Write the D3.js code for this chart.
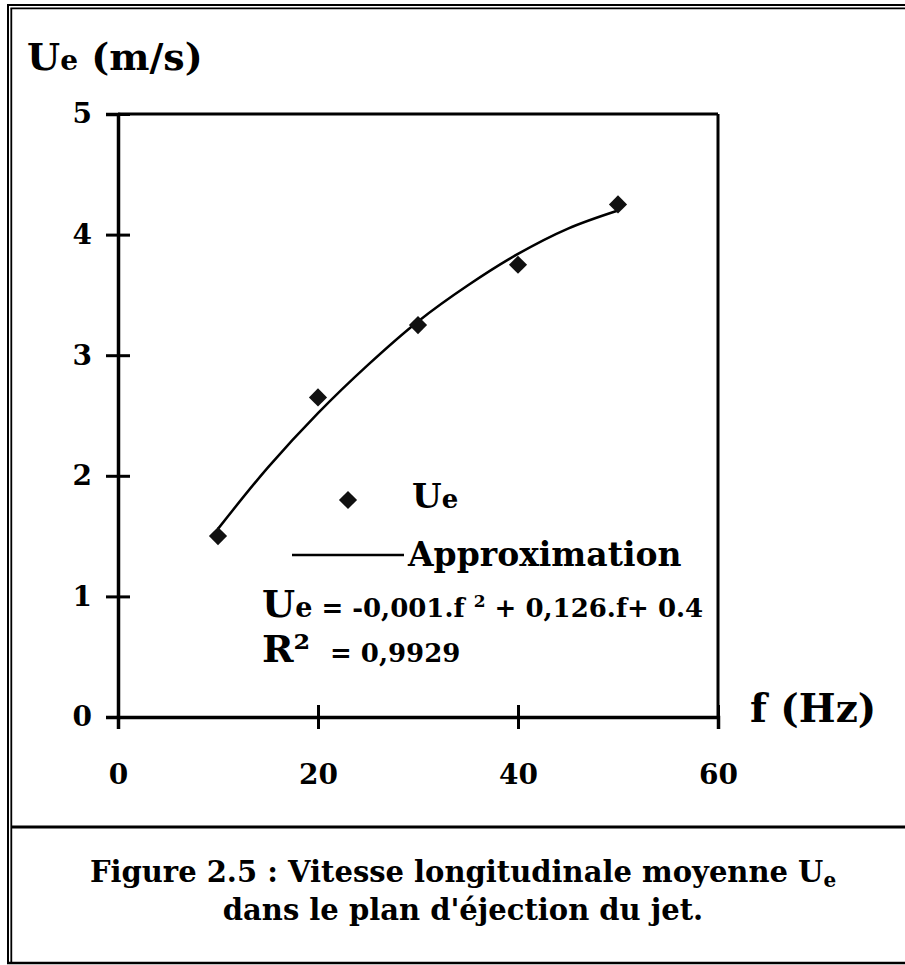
<!DOCTYPE html>
<html>
<head>
<meta charset="utf-8">
<script src="https://d3js.org/d3.v7.min.js"></script>
<style>
body { margin: 0; background: #fff; }
text { font-family: "DejaVu Serif", serif; font-weight: bold; fill: #000; }
</style>
</head>
<body>
<div id="chart"></div>
<script>

// measured points (f in Hz, Ue in m/s)
var freq = [10, 20, 30, 40, 50];
var speed = [1.5, 2.65, 3.25, 3.75, 4.25];

// approximation curve
var fitFreq = [10, 15, 20, 25, 30, 35, 40, 45, 50];
var fitSpeed = [1.56, 2.07, 2.52, 2.92, 3.28, 3.58, 3.84, 4.05, 4.2];

var xTicks = [0, 20, 40, 60];
var yTicks = [0, 1, 2, 3, 4, 5];

var width = 905, height = 965;

var svg = d3.select("#chart")
  .append("svg")
  .attr("width", width)
  .attr("height", height);

// frame: double line left and top, single line bottom, separator above caption
svg.append("line").attr("x1", 8).attr("y1", 5).attr("x2", 8).attr("y2", 963)
  .attr("stroke", "#000").attr("stroke-width", 2);
svg.append("line").attr("x1", 11.3).attr("y1", 8.4).attr("x2", 11.3).attr("y2", 963)
  .attr("stroke", "#000").attr("stroke-width", 1.8);
svg.append("line").attr("x1", 7).attr("y1", 5).attr("x2", width).attr("y2", 5)
  .attr("stroke", "#000").attr("stroke-width", 2);
svg.append("line").attr("x1", 10.4).attr("y1", 8.4).attr("x2", width).attr("y2", 8.4)
  .attr("stroke", "#000").attr("stroke-width", 1.8);
svg.append("line").attr("x1", 7).attr("y1", 963).attr("x2", width).attr("y2", 963)
  .attr("stroke", "#000").attr("stroke-width", 2.5);
svg.append("line").attr("x1", 11).attr("y1", 827).attr("x2", width).attr("y2", 827)
  .attr("stroke", "#000").attr("stroke-width", 3);

var xscale = d3.scaleLinear().domain([0, 60]).range([118, 718]);
var yscale = d3.scaleLinear().domain([0, 5]).range([717, 114]);

// plot box top and right
svg.append("line").attr("x1", xscale(0)).attr("y1", yscale(5)).attr("x2", xscale(60)).attr("y2", yscale(5))
  .attr("stroke", "#000").attr("stroke-width", 3);
svg.append("line").attr("x1", xscale(60)).attr("y1", yscale(5)).attr("x2", xscale(60)).attr("y2", yscale(0))
  .attr("stroke", "#000").attr("stroke-width", 3);

// y axis, cross ticks (outer part with labels, inner part without)
var yAxis = svg.append("g")
  .attr("transform", "translate(" + xscale(0) + ",0)")
  .call(d3.axisLeft(yscale).tickValues(yTicks).tickSize(12).tickPadding(14).tickFormat(d3.format("d")));
svg.append("g")
  .attr("transform", "translate(" + xscale(0) + ",0)")
  .call(d3.axisRight(yscale).tickValues(yTicks).tickSize(12).tickFormat(""))
  .select(".domain").remove();

var xAxis = svg.append("g")
  .attr("transform", "translate(0," + yscale(0) + ")")
  .call(d3.axisBottom(xscale).tickValues(xTicks).tickSize(12).tickPadding(35).tickFormat(d3.format("d")));
svg.append("g")
  .attr("transform", "translate(0," + yscale(0) + ")")
  .call(d3.axisTop(xscale).tickValues(xTicks).tickSize(12).tickFormat(""))
  .select(".domain").remove();

svg.selectAll(".domain").attr("stroke", "#000").attr("stroke-width", 3.5);
svg.selectAll(".tick line").attr("stroke", "#000").attr("stroke-width", 3);
svg.selectAll(".tick text")
  .style("font-family", "DejaVu Serif")
  .style("font-weight", "bold")
  .style("font-size", "28px")
  .attr("fill", "#000");

// approximation curve
var line = d3.line()
  .x(function(d, i) { return xscale(fitFreq[i]); })
  .y(function(d) { return yscale(d); })
  .curve(d3.curveCatmullRom);

svg.append("path")
  .datum(fitSpeed)
  .attr("d", line)
  .attr("fill", "none")
  .attr("stroke", "#000")
  .attr("stroke-width", 2.5);

// data markers (squares turned 45 degrees)
var marker = d3.symbol().type(d3.symbolSquare).size(165);

svg.selectAll(".pt")
  .data(speed)
  .enter()
  .append("path")
  .attr("class", "pt")
  .attr("d", marker)
  .attr("transform", function(d, i) { return "translate(" + xscale(freq[i]) + "," + yscale(d) + ")rotate(45)"; })
  .attr("fill", "#111");

// axis titles
var t1 = svg.append("text").attr("x", 27).attr("y", 70).style("font-size", "38px");
t1.append("tspan").text("U");
t1.append("tspan").style("font-size", "28px").text("e");
t1.append("tspan").text(" (m/s)");

svg.append("text").attr("x", 750).attr("y", 722).style("font-size", "39px").text("f (Hz)");

// legend
svg.append("path")
  .attr("d", marker)
  .attr("transform", "translate(348,500)rotate(45)")
  .attr("fill", "#111");
var t2 = svg.append("text").attr("x", 412).attr("y", 508).style("font-size", "34px");
t2.append("tspan").text("U");
t2.append("tspan").style("font-size", "26px").text("e");

svg.append("line").attr("x1", 292).attr("y1", 555).attr("x2", 404).attr("y2", 555)
  .attr("stroke", "#000").attr("stroke-width", 2.5);
svg.append("text").attr("x", 408).attr("y", 566).style("font-size", "33px").text("Approximation");

// equation and R²
var t3 = svg.append("text").attr("x", 262).attr("y", 617).style("font-size", "26px");
t3.append("tspan").style("font-size", "38px").text("U");
t3.append("tspan").style("font-size", "27px").text("e");
t3.append("tspan").text(" = -0,001.f ");
t3.append("tspan").attr("dy", -10).style("font-size", "17px").text("2");
t3.append("tspan").attr("dy", 10).text(" + 0,126.f+ 0.4");

var t4 = svg.append("text").attr("x", 262).attr("y", 662).style("font-size", "38px");
t4.append("tspan").text("R²");
t4.append("tspan").attr("x", 330).style("font-size", "26px").text("= 0,9929");

// caption
var c1 = svg.append("text").attr("x", 463).attr("y", 882).attr("text-anchor", "middle").style("font-size", "29px");
c1.append("tspan").text("Figure 2.5 : Vitesse longitudinale moyenne U");
c1.append("tspan").attr("dy", 5).style("font-size", "20px").text("e");

svg.append("text").attr("x", 463).attr("y", 920).attr("text-anchor", "middle").style("font-size", "29px")
  .text("dans le plan d'éjection du jet.");

</script>
</body>
</html>
